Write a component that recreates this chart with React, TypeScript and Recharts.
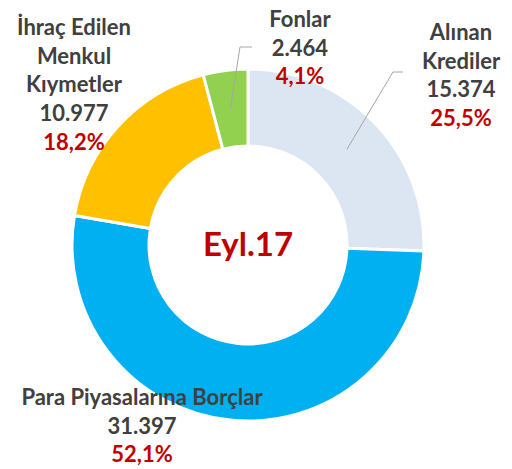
import React from "react";
import { PieChart, Pie, Cell } from "recharts";

const categories = [
  ["Alınan", "Krediler"],
  ["Para Piyasalarına Borçlar"],
  ["İhraç Edilen", "Menkul", "Kıymetler"],
  ["Fonlar"],
];
const values = [15374, 31397, 10977, 2464];
const colors = ["#DCE6F2", "#00B0F0", "#FFC000", "#92D050"];
const centerTitle = "Eyl.17";

// label layout: x center of text, y of first baseline, optional leader elbow
const labelLayout = [
  { x: 461, y: 40, elbow: [393, 72], end: [403, 72] },
  { x: 142, y: 405 },
  { x: 74, y: 35 },
  { x: 300, y: 27, elbow: [240, 47], end: [252, 47] },
];

const total = values.reduce((a, b) => a + b, 0);
const data = values.map((v, i) => ({ name: categories[i].join(" "), value: v, idx: i }));

const fmtNum = (v: number) => String(v).replace(/\B(?=(\d{3})+(?!\d))/g, ".");
const fmtPct = (v: number) => ((v / total) * 100).toFixed(1).replace(".", ",") + "%";

const RAD = Math.PI / 180;
const FONT = "Lato, 'Open Sans', sans-serif";
const LH = 28.7;

const renderLabel = (props: any) => {
  const { cx, cy, midAngle, innerRadius, outerRadius, index } = props;
  const lay = labelLayout[index];
  const lines = categories[index];
  const r = (innerRadius + outerRadius) / 2;
  const sx = cx + r * Math.cos(-midAngle * RAD);
  const sy = cy + r * Math.sin(-midAngle * RAD);
  return (
    <g key={"lbl" + index}>
      {lay.elbow && (
        <polyline
          points={`${sx},${sy} ${lay.elbow[0]},${lay.elbow[1]} ${lay.end![0]},${lay.end![1]}`}
          fill="none"
          stroke="#A6A6A6"
          strokeWidth={1}
        />
      )}
      <text x={lay.x} y={lay.y} textAnchor="middle" fontFamily={FONT} fontWeight={700} fontSize={22}>
        {lines.map((l, i) => (
          <tspan key={i} x={lay.x} y={lay.y + i * LH} fill="#404040">
            {l}
          </tspan>
        ))}
        <tspan x={lay.x} y={lay.y + lines.length * LH} fill="#404040">
          {fmtNum(values[index])}
        </tspan>
        <tspan x={lay.x} y={lay.y + (lines.length + 1) * LH} fill="#C00000">
          {fmtPct(values[index])}
        </tspan>
      </text>
    </g>
  );
};

export default function App() {
  return (
    <div style={{ position: "absolute", left: 0, top: 0, width: 512, height: 469, background: "#fff" }}>
      <PieChart width={512} height={469} margin={{ top: 0, right: 0, bottom: 0, left: 0 }}>
        <Pie
          data={data}
          dataKey="value"
          nameKey="name"
          cx={248}
          cy={245}
          innerRadius={99}
          outerRadius={176}
          startAngle={90}
          endAngle={-270}
          stroke="#FFFFFF"
          strokeWidth={3}
          isAnimationActive={false}
          label={renderLabel}
          labelLine={false}
        >
          {data.map((d, i) => (
            <Cell key={i} fill={colors[i]} />
          ))}
        </Pie>
        <text x={248} y={256} textAnchor="middle" fontFamily={FONT} fontWeight={700} fontSize={33} fill="#C00000">
          {centerTitle}
        </text>
      </PieChart>
    </div>
  );
}
